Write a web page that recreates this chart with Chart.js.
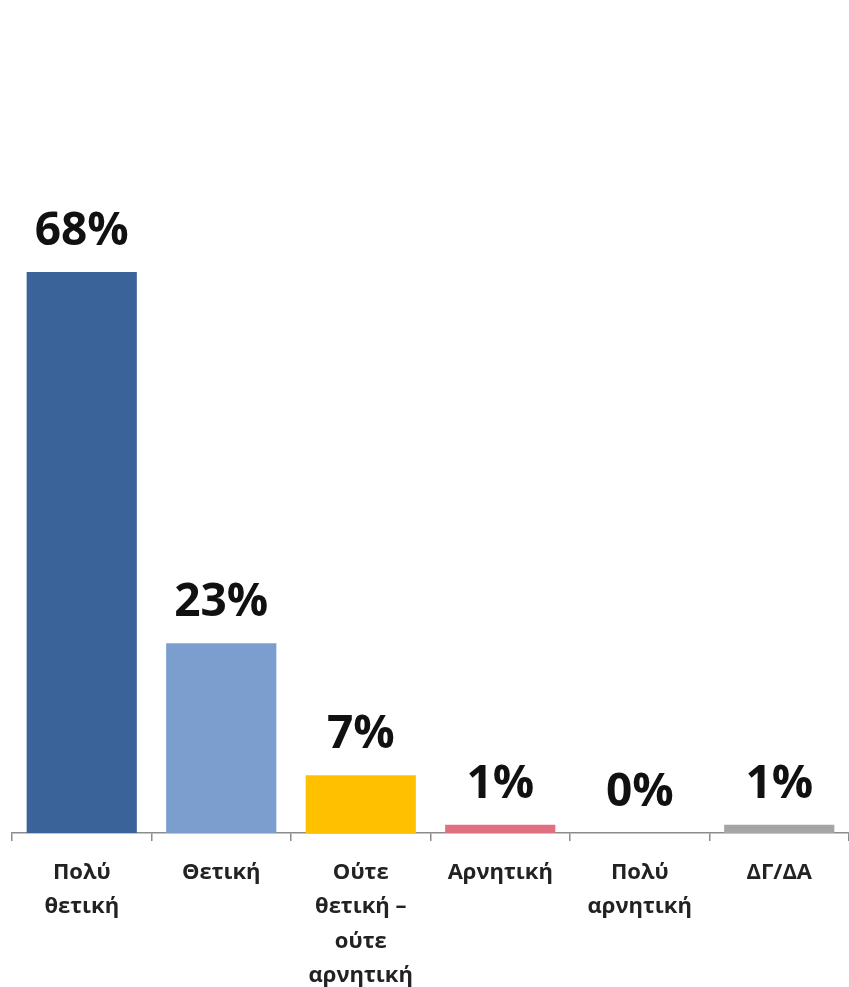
<!DOCTYPE html>
<html>
<head>
<meta charset="utf-8">
<script src="https://cdn.jsdelivr.net/npm/chart.js@4.4.1/dist/chart.umd.min.js"></script>
<style>
  html, body { margin: 0; padding: 0; background: #fff; overflow: hidden; }
  #wrap { width: 849px; height: 987px; position: relative; }
</style>
</head>
<body>
<div id="wrap"><canvas id="surveyChart"></canvas></div>
<script>
const categories = [
  ['Πολύ', 'θετική'],
  ['Θετική'],
  ['Ούτε', 'θετική –', 'ούτε', 'αρνητική'],
  ['Αρνητική'],
  ['Πολύ', 'αρνητική'],
  ['ΔΓ/ΔΑ']
];
const values = [68, 23, 7, 1, 0, 1];
const barColors = ['#3A6399', '#7C9ECF', '#FFC000', '#E07080', '#A5A5A5', '#A5A5A5'];

// value labels above each bar
const valueLabels = {
  id: 'valueLabels',
  afterDatasetsDraw(chart) {
    const ctx = chart.ctx;
    const meta = chart.getDatasetMeta(0);
    ctx.save();
    ctx.font = 'bold 46px "Open Sans", sans-serif';
    ctx.fillStyle = '#111';
    ctx.textAlign = 'center';
    ctx.textBaseline = 'alphabetic';
    meta.data.forEach((bar, i) => {
      ctx.fillText(values[i] + '%', bar.x, bar.y - 27);
    });
    ctx.restore();
  }
};

new Chart(document.getElementById('surveyChart'), {
  type: 'bar',
  data: {
    labels: categories,
    datasets: [{
      data: values,
      backgroundColor: barColors,
      barPercentage: 0.79,
      categoryPercentage: 1
    }]
  },
  options: {
    responsive: true,
    maintainAspectRatio: false,
    animation: false,
    layout: { padding: { top: 8, left: 12, right: 0, bottom: 0 } },
    plugins: { legend: { display: false }, tooltip: { enabled: false } },
    scales: {
      y: { display: false, min: 0, max: 100 },
      x: {
        afterFit(scale) { scale.height = 154; },
        border: { display: true, color: '#8c8c8c', width: 1.5 },
        grid: {
          display: true,
          drawOnChartArea: false,
          drawTicks: true,
          tickLength: 8,
          offset: true,
          color: '#8c8c8c',
          lineWidth: 1.5
        },
        ticks: {
          color: '#222',
          padding: 15,
          maxRotation: 0,
          autoSkip: false,
          font: { family: '"Open Sans", sans-serif', size: 22, weight: 'bold', lineHeight: 1.55 }
        }
      }
    }
  },
  plugins: [valueLabels]
});
</script>
</body>
</html>
